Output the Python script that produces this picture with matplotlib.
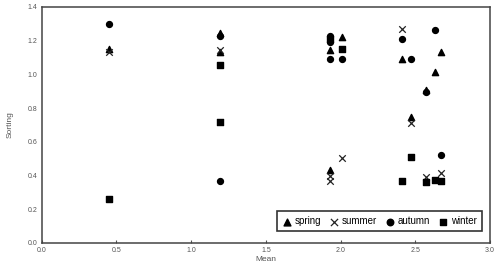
import matplotlib
matplotlib.use('Agg')
from matplotlib import pyplot as plt

# Mean / Sorting values per season
spring_x = [0.45, 1.19, 1.19, 1.93, 2.01, 1.93, 2.41, 2.47, 2.57, 2.63, 2.67]
spring_y = [1.15, 1.245, 1.13, 1.145, 1.22, 0.43, 1.09, 0.75, 0.905, 1.015, 1.13]

summer_x = [0.45, 1.19, 1.19, 1.93, 1.93, 2.01, 2.41, 2.47, 2.57, 2.67]
summer_y = [1.13, 1.145, 0.715, 0.395, 0.365, 0.505, 1.27, 0.71, 0.39, 0.415]

autumn_x = [0.45, 1.19, 1.19, 1.93, 1.93, 1.93, 2.01, 2.41, 2.47, 2.57, 2.63, 2.67]
autumn_y = [1.30, 1.225, 0.37, 1.23, 1.19, 1.09, 1.09, 1.21, 1.09, 0.895, 1.265, 0.52]

winter_x = [0.45, 1.19, 1.19, 1.93, 2.01, 2.41, 2.47, 2.57, 2.63, 2.67]
winter_y = [0.26, 1.055, 0.72, 1.21, 1.15, 0.365, 0.51, 0.36, 0.375, 0.365]

x_ticks = [0.0, 0.5, 1.0, 1.5, 2.0, 2.5, 3.0]
y_ticks = [0.0, 0.2, 0.4, 0.6, 0.8, 1.0, 1.2, 1.4]

plt.rcParams['font.family'] = ['Liberation Sans', 'DejaVu Sans']

fig = plt.figure(figsize=(4.96, 2.67), dpi=100)
ax = fig.add_axes([0.084, 0.09, 0.904, 0.884])

ax.scatter(spring_x, spring_y, marker='^', s=20, color='black', label='spring', zorder=3)
ax.scatter(summer_x, summer_y, marker='x', s=22, color='#222222', linewidths=0.9, label='summer', zorder=3)
ax.scatter(autumn_x, autumn_y, marker='o', s=18, color='black', label='autumn', zorder=3)
ax.scatter(winter_x, winter_y, marker='s', s=16, color='black', label='winter', zorder=3)

ax.set_xlim(0, 3)
ax.set_ylim(0, 1.4)
ax.set_xticks(x_ticks)
ax.set_yticks(y_ticks)
ax.set_xticklabels(['%.1f' % v for v in x_ticks])
ax.set_yticklabels(['%.1f' % v for v in y_ticks])
ax.tick_params(direction='in', length=2, width=0.8, labelsize=5, colors='#555555', pad=3)
ax.tick_params(axis='y', length=0)

for s in ax.spines.values():
    s.set_color('#444444')
    s.set_linewidth(1.1)

ax.set_xlabel('Mean', fontsize=6, color='#555555', labelpad=1)
ax.set_ylabel('Sorting', fontsize=6, color='#555555', labelpad=10)

leg = ax.legend(loc='lower right', bbox_to_anchor=(0.982, 0.051), borderaxespad=0,
                ncol=4, frameon=True, fancybox=False, edgecolor='black',
                handletextpad=0.35, columnspacing=0.9, borderpad=0.5, handlelength=0.9,
                markerscale=1.1,
                prop={'family': ['Liberation Sans Narrow', 'Liberation Sans'], 'size': 7})
leg.get_frame().set_linewidth(1.2)

fig.savefig('out.png', dpi=100)
